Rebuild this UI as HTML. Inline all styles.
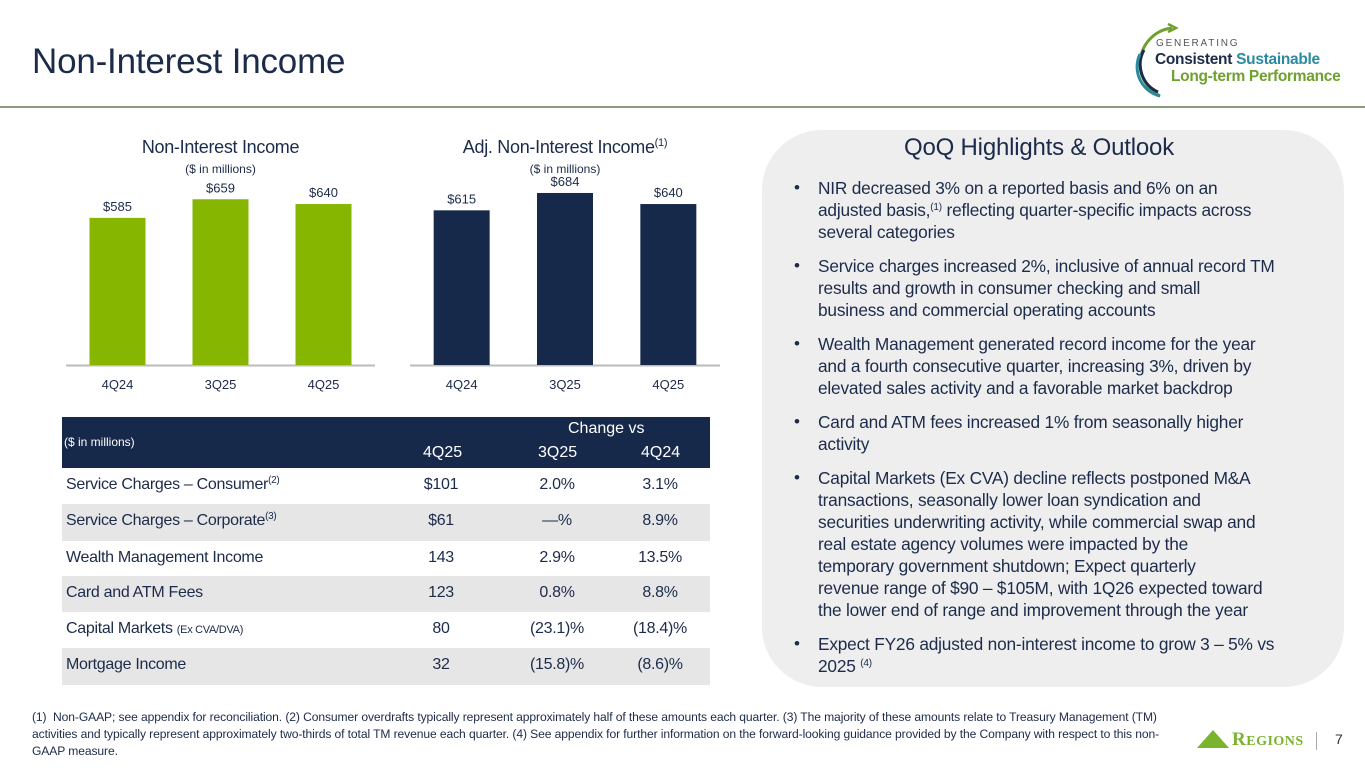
<!DOCTYPE html>
<html><head><meta charset="utf-8"><style>
*{margin:0;padding:0;box-sizing:border-box}
body{width:1365px;height:768px;position:relative;background:#fff;font-family:"Liberation Sans",sans-serif;color:#1c2b4a;overflow:hidden}
.abs{position:absolute}
.hl{position:absolute;left:818px;font-size:17.3px;letter-spacing:-0.2px;white-space:nowrap;line-height:22px;color:#1c2b4a}
.bul{position:absolute;left:794px;font-size:17px;line-height:22px}
.row{position:absolute;left:62px;width:648px;height:36px;font-size:16px;letter-spacing:-0.3px}
.row span{position:absolute;top:8px;white-space:nowrap}
sup{font-size:10px;vertical-align:6px;line-height:0}
</style></head><body>
<div class="abs" style="left:32px;top:42px;font-size:35px;letter-spacing:-0.2px;color:#1c2b4a">Non-Interest Income</div>
<div class="abs" style="left:0;top:106px;width:1365px;height:2px;background:#8a9a7a"></div>

<div class="abs" style="left:1130px;top:20px;width:235px;height:80px">
<svg width="60" height="80" style="position:absolute;left:0;top:0"><path d="M42 8 A36 36 0 0 0 30 76" fill="none" stroke="#6ea12e" stroke-width="3"/><path d="M38 4 L46 8 L38 12" fill="none" stroke="#6ea12e" stroke-width="2.5"/><path d="M14 30 A30 30 0 0 0 28 72" fill="none" stroke="#1c2b4a" stroke-width="3"/><path d="M10 34 A30 30 0 0 0 30 76" fill="none" stroke="#2a8aa0" stroke-width="3"/></svg>
<div class="abs" style="left:26px;top:18px;font-size:10px;letter-spacing:1.8px;color:#555">GENERATING</div>
<div class="abs" style="left:25px;top:31px;font-size:15.5px;font-weight:bold;white-space:nowrap;letter-spacing:-0.3px"><span style="color:#1c2b4a">Consistent</span> <span style="color:#2a8aa0">Sustainable</span></div>
<div class="abs" style="left:41px;top:48px;font-size:15.5px;font-weight:bold;white-space:nowrap;color:#6ea12e;letter-spacing:-0.3px">Long-term Performance</div>
</div>

<svg class="abs" style="left:0;top:0" width="760" height="400">
<g id="c1"></g><g id="c2"></g>
</svg>

<div class="abs" style="left:62px;top:417px;width:648px;height:268px">
<div class="abs" style="left:0;top:0;width:648px;height:51px;background:#17294a;color:#fff;font-size:16px">
<span class="abs" style="left:2px;top:18px;font-size:12px">($ in millions)</span>
<span class="abs" style="left:506px;top:3px">Change vs</span>
<span class="abs" style="left:361px;top:27px">4Q25</span>
<span class="abs" style="left:476px;top:27px">3Q25</span>
<span class="abs" style="left:579px;top:27px">4Q24</span>
</div>
</div>
<div id="rows"></div>

<div class="abs" style="left:762px;top:130px;width:582px;height:557px;background:#eeeeee;border-radius:60px"></div>
<div class="abs" style="left:762px;top:134px;width:554px;text-align:center;font-size:24px;letter-spacing:-0.2px">QoQ Highlights &amp; Outlook</div>
<div id="hl"></div>

<div class="abs" style="left:32px;top:709px;font-size:12.1px;line-height:17px;color:#1c2b4a;letter-spacing:-0.1px;white-space:nowrap">(1)&nbsp; Non-GAAP; see appendix for reconciliation. (2) Consumer overdrafts typically represent approximately half of these amounts each quarter. (3) The majority of these amounts relate to Treasury Management (TM)<br>activities and typically represent approximately two-thirds of total TM revenue each quarter. (4) See appendix for further information on the forward-looking guidance provided by the Company with respect to this non-<br>GAAP measure.</div>
<div class="abs" style="left:1196px;top:728px;width:120px;height:24px">
<svg width="34" height="22" style="position:absolute;left:0;top:0"><polygon points="17,2 33,20 1,20" fill="#7ab32e"/></svg>
<span class="abs" style="left:36px;top:1px;font-family:'Liberation Serif',serif;font-size:19px;font-weight:bold;color:#7ab32e;letter-spacing:0.5px">R<span style="font-size:14px">EGIONS</span></span>
</div>
<div class="abs" style="left:1316px;top:732px;width:1px;height:18px;background:#aaa"></div>
<div class="abs" style="left:1335px;top:731px;font-size:14px;color:#333">7</div>

<script>
const categories=["4Q24","3Q25","4Q25"];
const niiValues=[585,659,640];
const adjValues=[615,684,640];
const ns="http://www.w3.org/2000/svg";
function mk(tag,attrs,txt){const e=document.createElementNS(ns,tag);for(const k in attrs)e.setAttribute(k,attrs[k]);if(txt!==undefined)e.textContent=txt;return e;}
const base=365,scale=0.2515;
function yv(v){return base-v*scale;}
function chart(gid,x0,w,vals,color,title,sup,name){
 const g=document.getElementById(gid);
 const cx=x0+w/2;
 const t=mk("text",{x:cx,y:153,"text-anchor":"middle","font-size":"18","fill":"#1c2b4a","letter-spacing":"-0.3"},title);
 if(sup){const s=mk("tspan",{"font-size":"11",dy:"-7"},sup);t.appendChild(s);}
 
 
 g.appendChild(t);
 const st=mk("text",{x:cx,y:173,"text-anchor":"middle","font-size":"12","fill":"#1c2b4a"},"($ in millions)");
 
 
 g.appendChild(st);
 const ax=mk("line",{x1:x0,x2:x0+w,y1:base+0.5,y2:base+0.5,stroke:"#bbbbbb","stroke-width":"2"});
 
 
 g.appendChild(ax);
 const step=w/categories.length,bw=56;
 categories.forEach((c,i)=>{
  const bx=x0+step*i+step/2;
  const r=mk("rect",{x:bx-bw/2,y:yv(vals[i]),width:bw,height:base-yv(vals[i]),fill:color});
  
  
  g.appendChild(r);
  const l=mk("text",{x:bx,y:yv(vals[i])-7,"text-anchor":"middle","font-size":"13","fill":"#1c2b4a"},"$"+vals[i]);
  
  
  g.appendChild(l);
  const tl=mk("text",{x:bx,y:389,"text-anchor":"middle","font-size":"13","fill":"#1c2b4a"},c);
  
  
  g.appendChild(tl);
 });
}
chart("c1",66,309,niiValues,"#86b600","Non-Interest Income","","nii-chart");
chart("c2",410,310,adjValues,"#17294a","Adj. Non-Interest Income","(1)","adj-nii-chart");

const rowLabels=["Service Charges \u2013 Consumer<sup>(2)</sup>","Service Charges \u2013 Corporate<sup>(3)</sup>","Wealth Management Income","Card and ATM Fees","Capital Markets <span style='position:static;font-size:11px'>(Ex CVA/DVA)</span>","Mortgage Income"];
const col4Q25=["$101","$61","143","123","80","32"];
const col3Q25=["2.0%","\u2014%","2.9%","0.8%","(23.1)%","(15.8)%"];
const col4Q24=["3.1%","8.9%","13.5%","8.8%","(18.4)%","(8.6)%"];
const rows=document.getElementById("rows");
const tops=[468,504,541,576,612,648];
rowLabels.forEach((lab,i)=>{
 const d=document.createElement("div");
 d.className="row";
 d.style.top=tops[i]+"px";
 d.style.height=(i==5?37:(tops[i+1]-tops[i]))+"px";
 d.style.background=i%2?"#e6e6e6":"#fff";
 
 
 d.innerHTML=`<span style="left:4px">${lab}</span><span style="left:339px;width:80px;text-align:center">${col4Q25[i]}</span><span style="left:455px;width:80px;text-align:center">${col3Q25[i]}</span><span style="left:558px;width:80px;text-align:center">${col4Q24[i]}</span>`;
 rows.appendChild(d);
});

const hlLines=[
[177,true,"NIR decreased 3% on a reported basis and 6% on an"],
[199,false,"adjusted basis,<sup>(1)</sup> reflecting quarter-specific impacts across"],
[221,false,"several categories"],
[255,true,"Service charges increased 2%, inclusive of annual record TM"],
[277,false,"results and growth in consumer checking and small"],
[299,false,"business and commercial operating accounts"],
[333,true,"Wealth Management generated record income for the year"],
[355,false,"and a fourth consecutive quarter, increasing 3%, driven by"],
[377,false,"elevated sales activity and a favorable market backdrop"],
[411,true,"Card and ATM fees increased 1% from seasonally higher"],
[433,false,"activity"],
[467,true,"Capital Markets (Ex CVA) decline reflects postponed M&amp;A"],
[489,false,"transactions, seasonally lower loan syndication and"],
[511,false,"securities underwriting activity, while commercial swap and"],
[533,false,"real estate agency volumes were impacted by the"],
[555,false,"temporary government shutdown; Expect quarterly"],
[577,false,"revenue range of $90 \u2013 $105M, with 1Q26 expected toward"],
[599,false,"the lower end of range and improvement through the year"],
[633,true,"Expect FY26 adjusted non-interest income to grow 3 \u2013 5% vs"],
[655,false,"2025 <sup>(4)</sup>"]];
const hl=document.getElementById("hl");
hlLines.forEach(([t,b,txt])=>{
 if(b){const s=document.createElement("div");s.className="bul";s.style.top=t+"px";s.textContent="\u2022";
  
  
  hl.appendChild(s);}
 const d=document.createElement("div");d.className="hl";d.style.top=t+"px";d.innerHTML=txt;
 
 
 hl.appendChild(d);
});
</script>
</body></html>
